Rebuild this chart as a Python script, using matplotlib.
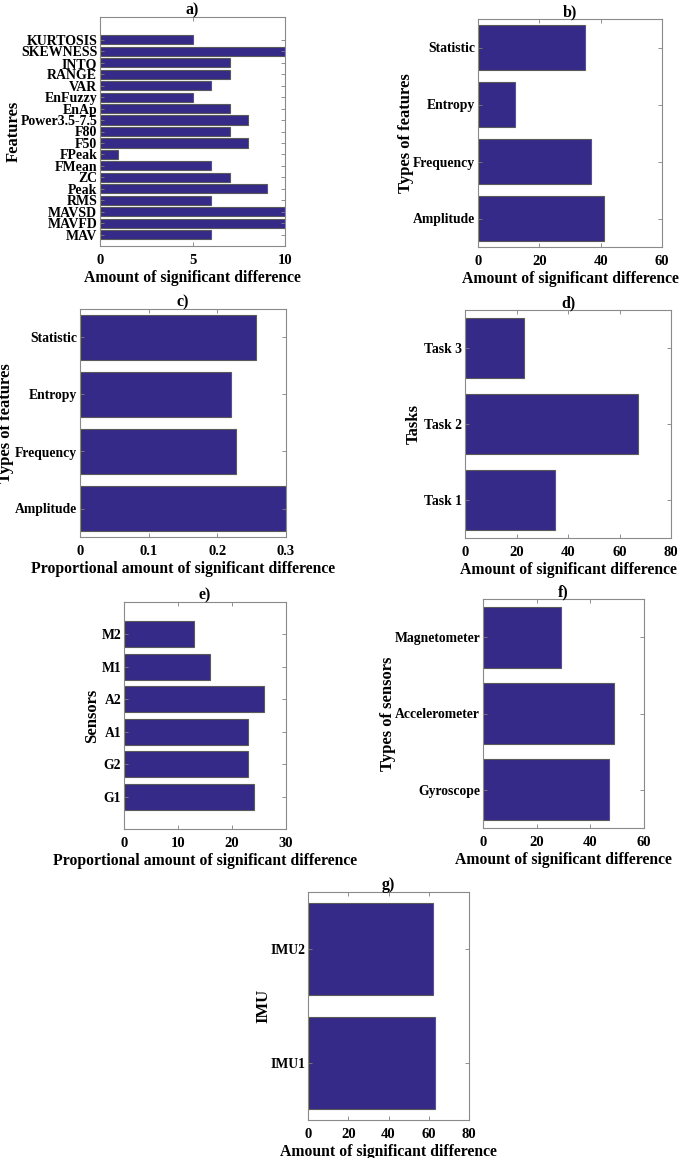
import matplotlib.pyplot as plt

plt.rcParams["font.family"] = ["Liberation Serif", "DejaVu Serif"]
plt.rcParams["font.weight"] = "bold"

BAR_COLOR = "#352A87"
EDGE_COLOR = "#5a5a5a"
W, H = 685, 1158

# a) features
features = ["MAV", "MAVFD", "MAVSD", "RMS", "Peak", "ZC", "FMean", "FPeak", "F50",
            "F80", "Power3.5-7.5", "EnAp", "EnFuzzy", "VAR", "RANGE", "INTQ",
            "SKEWNESS", "KURTOSIS"]
features_count = [6, 10, 10, 6, 9, 7, 6, 1, 8, 7, 8, 7, 5, 6, 7, 7, 10, 5]

# b) / c) feature types
feature_types = ["Amplitude", "Frequency", "Entropy", "Statistic"]
feature_types_count = [41, 37, 12, 35]
feature_types_prop = [0.30, 0.227, 0.220, 0.257]

# d) tasks
tasks = ["Task 1", "Task 2", "Task 3"]
tasks_count = [35, 67, 23]

# e) sensors
sensors = ["G1", "G2", "A1", "A2", "M1", "M2"]
sensors_prop = [24, 23, 23, 26, 16, 13]

# f) sensor types
sensor_types = ["Gyroscope", "Accelerometer", "Magnetometer"]
sensor_types_count = [47, 49, 29]

# g) IMU
imus = ["IMU1", "IMU2"]
imus_count = [63, 62]


def panel(fig, box, labels, values, xlim, xticks, ylim, title, xlabel, ylabel,
          ylabel_px, tick_fs=9.8):
    left, top, right, bottom = box
    ax = fig.add_axes([left / W, 1 - bottom / H, (right - left) / W, (bottom - top) / H])
    pos = list(range(1, len(labels) + 1))
    ax.barh(pos, values, height=0.8, color=BAR_COLOR, edgecolor=EDGE_COLOR, linewidth=0.8)
    ax.set_xlim(*xlim)
    ax.set_ylim(*ylim)
    ax.set_xticks(xticks)
    ax.set_xticklabels([f"{t:g}" for t in xticks])
    ax.set_yticks(pos)
    ax.set_yticklabels(labels)
    ax.tick_params(axis="both", direction="in", top=True, right=True, length=3,
                   color="#7f7f7f", width=0.6)
    ax.tick_params(axis="y", labelsize=tick_fs, pad=2)
    ax.tick_params(axis="x", labelsize=10.5, pad=6)
    for sp in ax.spines.values():
        sp.set_color("#8a8a8a")
        sp.set_linewidth(0.8)
    ax.set_title(title, fontsize=11.5, fontweight="bold", pad=2)
    ax.set_xlabel(xlabel, fontsize=11.3, fontweight="bold", labelpad=2)
    ax.set_ylabel(ylabel, fontsize=12, fontweight="bold")
    # label anchor is the right edge of the rotated text, shift from its centre
    ax.yaxis.set_label_coords((ylabel_px + 9 - left) / (right - left), 0.5)
    return ax


fig = plt.figure(figsize=(W / 100, H / 100), dpi=100)

amount = "Amount of significant difference"
prop = "Proportional amount of significant difference"

panel(fig, (100, 17, 285, 246), features, features_count, (0, 10), [0, 5, 10],
      (0, 20), "a)", amount, "Features", 13, tick_fs=10)
panel(fig, (478, 19, 662, 247), feature_types, feature_types_count, (0, 60),
      [0, 20, 40, 60], (0.5, 4.5), "b)", amount, "Types of features", 405)
panel(fig, (80, 309, 286, 537), feature_types, feature_types_prop, (0, 0.3),
      [0, 0.1, 0.2, 0.3], (0.5, 4.5), "c)", prop, "Types of features", 5)
panel(fig, (465, 310, 671, 538), tasks, tasks_count, (0, 80), [0, 20, 40, 60, 80],
      (0.5, 3.5), "d)", amount, "Tasks", 413)
panel(fig, (124, 602, 286, 829), sensors, sensors_prop, (0, 30), [0, 10, 20, 30],
      (0, 7), "e)", prop, "Sensors", 91)
panel(fig, (483, 599, 644, 828), sensor_types, sensor_types_count, (0, 60),
      [0, 20, 40, 60], (0.5, 3.5), "f)", amount, "Types of sensors", 387)
panel(fig, (308, 892, 469, 1120), imus, imus_count, (0, 80), [0, 20, 40, 60, 80],
      (0.5, 2.5), "g)", amount, "IMU", 262)

fig.savefig("out.png", dpi=100)
